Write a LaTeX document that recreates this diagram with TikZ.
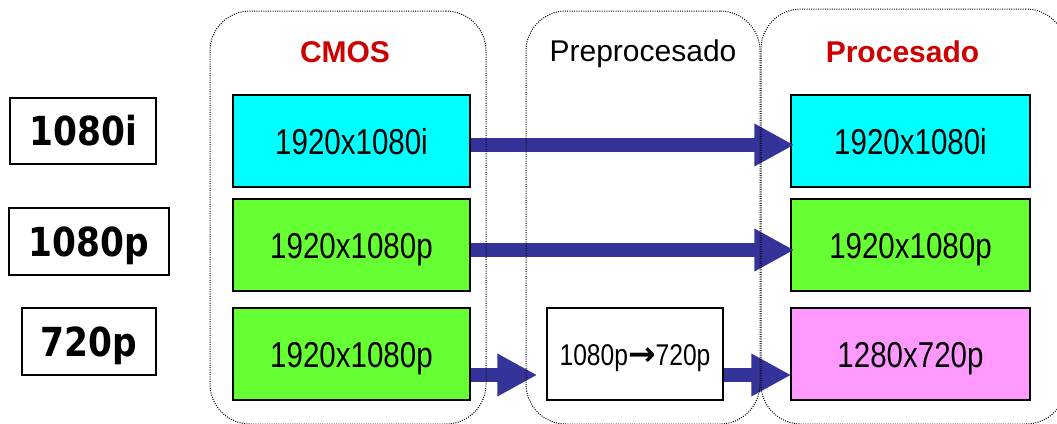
\documentclass[tikz,border=0pt]{standalone}
\usepackage{fontspec}
\setmainfont{Liberation Sans}
\newfontfamily\narrowfont[FakeStretch=0.82]{Liberation Sans}
\newfontfamily\labfont[FakeStretch=0.86]{DejaVu Sans}
\newfontfamily\symfont{DejaVu Sans}
\usetikzlibrary{arrows.meta}
\definecolor{cmcyan}{HTML}{00FFFF}
\definecolor{cmgreen}{HTML}{66FF33}
\definecolor{cmpink}{HTML}{FF99FF}
\definecolor{cmnavy}{HTML}{333399}
\definecolor{cmred}{HTML}{CC0000}
\tikzset{
  resbox/.style={draw=black, line width=1.5pt, minimum height=92pt, inner sep=0pt,
    text height=26pt, text depth=0pt, font=\narrowfont\fontsize{36}{40}\selectfont},
  cmosbox/.style={resbox, minimum width=237pt},
  procbox/.style={resbox, minimum width=239pt},
  prebox/.style={resbox, fill=white, minimum width=176pt, text height=22pt,
    font=\narrowfont\fontsize{30}{34}\selectfont},
  labbox/.style={draw=black, line width=1.5pt, minimum height=66pt, inner sep=0pt,
    text height=29pt, text depth=0pt, font=\labfont\bfseries\fontsize{40}{44}\selectfont},
  container/.style={draw=black, line width=1pt, dash pattern=on 1pt off 1.3pt,
    rounded corners=40pt, inner sep=0pt},
  title/.style={anchor=base, inner sep=0pt, font=\fontsize{30}{34}\selectfont},
  bigarrow/.style={draw=cmnavy, line width=14pt,
    -{Triangle[length=40pt,width=40pt]}},
}
\begin{document}
\begin{tikzpicture}[x=1pt,y=-1pt]
\useasboundingbox (0,0) rectangle (1057,423);
% left labels
\node[labbox, minimum width=146pt] (l1) at (83,131) {1080i};
\node[labbox, minimum width=160pt, minimum height=67pt] (l2) at (89,241.5) {1080p};
\node[labbox, minimum width=134pt, minimum height=67pt] (l3) at (89,341.5) {720p};
% CMOS boxes
\node[cmosbox, fill=cmcyan] (c1) at (351.5,141) {1920x1080i};
\node[cmosbox, fill=cmgreen] (c2) at (351.5,245) {1920x1080p};
\node[cmosbox, fill=cmgreen] (c3) at (351.5,354) {1920x1080p};
% preprocessing box
\node[prebox] (pre) at (635,354) {1080p{\symfont\bfseries\fontsize{33}{34}\selectfont →}720p};
% processed boxes
\node[procbox, fill=cmcyan] (p1) at (910.5,141) {1920x1080i};
\node[procbox, fill=cmgreen] (p2) at (910.5,245) {1920x1080p};
\node[procbox, fill=cmpink] (p3) at (910.5,354) {1280x720p};
% arrows
\draw[bigarrow, shorten >=-4pt] ([yshift=-4pt]c1.east) -- ([yshift=-4pt]p1.west);
\draw[bigarrow, shorten >=-4pt] ([yshift=-5pt]c2.east) -- ([yshift=-5pt]p2.west);
\draw[bigarrow, shorten >=9pt] ([yshift=-21pt]c3.east) -- ([yshift=-21pt]pre.west);
\draw[bigarrow, shorten >=-1pt] ([yshift=-21pt]pre.east) -- ([yshift=-21pt]p3.west);
% containers
\node[container, minimum width=276pt, minimum height=413pt] (kcmos) at (348,217.5) {};
\node[container, minimum width=234pt, minimum height=413pt] (kpre) at (643,217.5) {};
\node[container, minimum width=305pt, minimum height=415pt] (kproc) at (913.5,216.5) {};
% titles
\node[title, text=cmred, font=\bfseries\fontsize{30}{34}\selectfont] (tcmos) at (345,62) {CMOS};
\node[title] (tpre) at (643,61) {Preprocesado};
\node[title, text=cmred, font=\bfseries\fontsize{30}{34}\selectfont] (tproc) at (902.5,62) {Procesado};
\end{tikzpicture}
\end{document}
